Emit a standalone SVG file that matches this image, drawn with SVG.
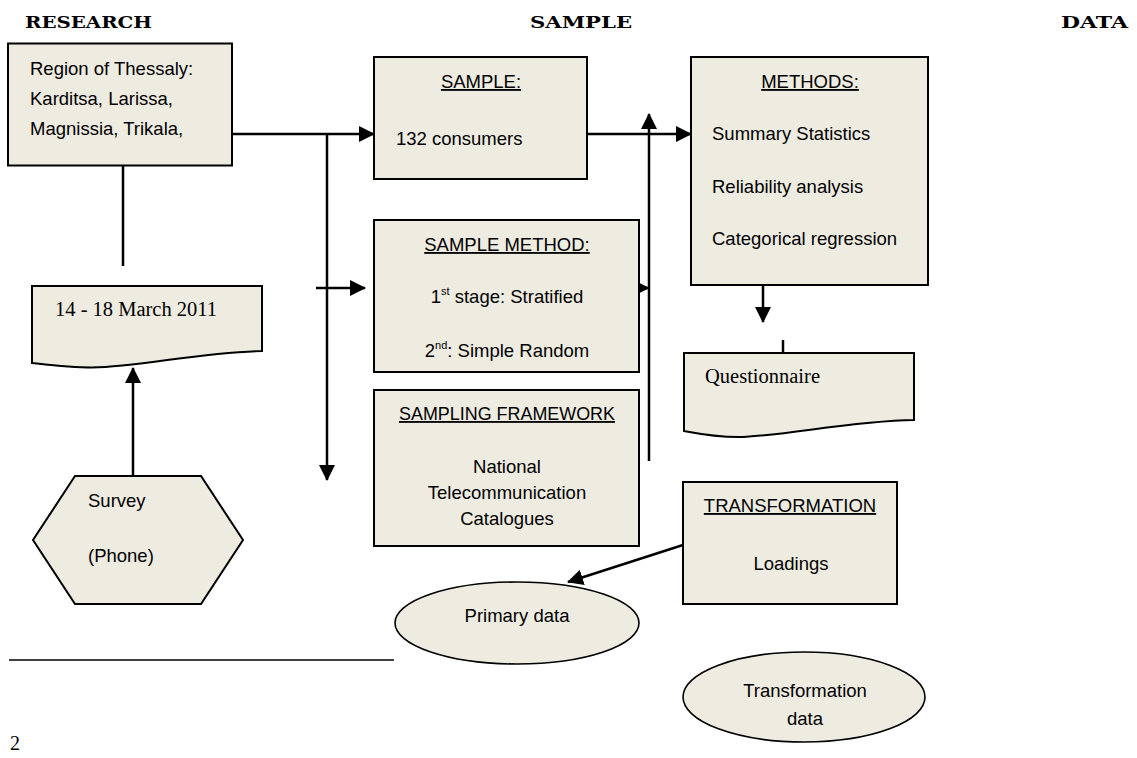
<svg xmlns="http://www.w3.org/2000/svg" width="1137" height="758" viewBox="0 0 1137 758">
<style>
.shape{fill:#EEECE1;stroke:#000;stroke-width:2}
.ell{fill:#EEECE1;stroke:#000;stroke-width:1.6}
.t{font-family:"Liberation Sans",Arial,sans-serif;font-size:18.5px;fill:#000}
.s{font-family:"Liberation Serif","Times New Roman",serif;font-size:20.5px;fill:#000}
.h{font-family:"DejaVu Serif","Liberation Serif",serif;font-size:17.5px;font-weight:bold;fill:#000}
.u{text-decoration:underline}
.c{text-anchor:middle}
.ln{fill:none;stroke:#000;stroke-width:2.5}
.sup{font-size:11px}
</style>
<defs>
<marker id="ah" markerUnits="userSpaceOnUse" markerWidth="16" markerHeight="16" viewBox="0 0 16 16" refX="15" refY="8" orient="auto"><path d="M0,0 L16,8 L0,16 Z" fill="#000"/></marker>
<marker id="ahs" markerUnits="userSpaceOnUse" markerWidth="10" markerHeight="10" viewBox="0 0 10 10" refX="9.5" refY="5" orient="auto"><path d="M0,0 L10,5 L0,10 Z" fill="#000"/></marker>
</defs>

<g id="titles">
<text class="h" x="25" y="28" textLength="127" lengthAdjust="spacingAndGlyphs">RESEARCH</text>
<text class="h" x="530" y="28" textLength="102" lengthAdjust="spacingAndGlyphs">SAMPLE</text>
<text class="h" x="1061" y="28" textLength="67" lengthAdjust="spacingAndGlyphs">DATA</text>
</g>

<g id="connectors">
<path class="ln" d="M123,166 V266"/>
<path class="ln" d="M232,134 H374" marker-end="url(#ah)"/>
<path class="ln" d="M327,134 V480" marker-end="url(#ah)"/>
<path class="ln" d="M316,288 H365" marker-end="url(#ah)"/>
<path class="ln" d="M133,476 V368" marker-end="url(#ah)"/>
<path class="ln" d="M587,134 H691" marker-end="url(#ah)"/>
<path class="ln" d="M649,461 V114" marker-end="url(#ah)"/>
<path class="ln" d="M639,288 H649" marker-end="url(#ahs)"/>
<path class="ln" d="M763,285 V322" marker-end="url(#ah)"/>
<path class="ln" d="M783,340 V353"/>
<path class="ln" d="M683,545 L568,582" marker-end="url(#ah)"/>
</g>

<g id="region">
<rect class="shape" x="8" y="43.5" width="224" height="122"/>
<text class="t" x="30" y="75">Region of Thessaly:</text>
<text class="t" x="30" y="105">Karditsa, Larissa,</text>
<text class="t" x="30" y="135">Magnissia, Trikala,</text>
</g>

<g id="date">
<path class="shape" d="M32,286 H262 V351 C200,352 140,367 92,367.5 C70,367.5 50,365 32,363 Z"/>
<text class="s" x="55" y="316">14 - 18 March 2011</text>
</g>

<g id="survey">
<polygon class="shape" points="75,476 201,476 243,540 201,604 75,604 33,540"/>
<text class="t" x="88" y="507">Survey</text>
<text class="t" x="88" y="562">(Phone)</text>
</g>

<g id="sample">
<rect class="shape" x="374" y="57" width="213" height="122"/>
<text class="t c u" x="481" y="88">SAMPLE:</text>
<text class="t" x="396" y="145">132 consumers</text>
</g>

<g id="sample-method">
<rect class="shape" x="374" y="220" width="265" height="152"/>
<text class="t c u" x="507" y="251">SAMPLE METHOD:</text>
<text class="t c" x="507" y="303">1<tspan class="sup" dy="-8">st</tspan><tspan dy="8"> stage: Stratified</tspan></text>
<text class="t c" x="507" y="357">2<tspan class="sup" dy="-8">nd</tspan><tspan dy="8">: Simple Random</tspan></text>
</g>

<g id="sampling-framework">
<rect class="shape" x="374" y="390" width="265" height="156"/>
<text class="t c u" x="507" y="420" textLength="216" lengthAdjust="spacingAndGlyphs">SAMPLING FRAMEWORK</text>
<text class="t c" x="507" y="473">National</text>
<text class="t c" x="507" y="499">Telecommunication</text>
<text class="t c" x="507" y="525">Catalogues</text>
</g>

<g id="methods">
<rect class="shape" x="691" y="57" width="237" height="228"/>
<text class="t c u" x="810" y="88">METHODS:</text>
<text class="t" x="712" y="140">Summary Statistics</text>
<text class="t" x="712" y="193">Reliability analysis</text>
<text class="t" x="712" y="245">Categorical regression</text>
</g>

<g id="questionnaire">
<path class="shape" d="M684,353 H914 V420 C850,421 790,435 742,437 C718,437.5 700,434 684,431 Z"/>
<text class="s" x="705" y="383">Questionnaire</text>
</g>

<g id="transformation">
<rect class="shape" x="683" y="482" width="214" height="122"/>
<text class="t c u" x="790" y="512">TRANSFORMATION</text>
<text class="t c" x="791" y="570">Loadings</text>
</g>

<g id="primary-data">
<ellipse class="ell" cx="517" cy="623" rx="122" ry="41"/>
<text class="t c" x="517" y="622">Primary data</text>
</g>

<g id="transformation-data">
<ellipse class="ell" cx="804" cy="697" rx="121" ry="45"/>
<text class="t c" x="805" y="697">Transformation</text>
<text class="t c" x="805" y="725">data</text>
</g>

<g id="footnote">
<path d="M9,660 H394" stroke="#000" stroke-width="1.5" fill="none"/>
<text class="s" x="10" y="750" style="font-size:20px">2</text>
</g>
</svg>
